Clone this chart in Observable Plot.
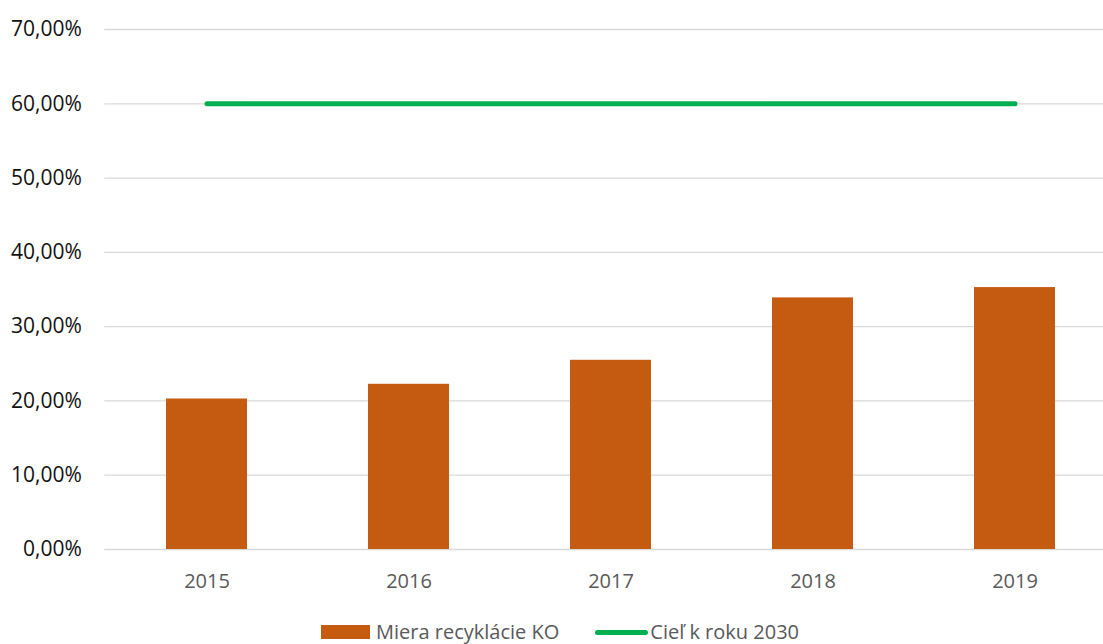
<!DOCTYPE html>
<html>
<head>
<meta charset="utf-8">
<script src="https://cdn.jsdelivr.net/npm/d3@7"></script>
<script src="https://cdn.jsdelivr.net/npm/@observablehq/plot@0.6"></script>
<style>
  html, body { margin: 0; padding: 0; background: #fff; overflow: hidden; width: 1103px; height: 644px; }
  #wrap { position: relative; width: 1103px; height: 644px; overflow: hidden; }
  #chart svg { max-width: none !important; display: block; }
  #legend { position: absolute; top: 622px; left: 321px; display: flex; align-items: center; line-height: 20px; height: 20px;
    font-family: "Open Sans", sans-serif; font-size: 20px; color: #595959; white-space: nowrap; }
  .sw-bar { width: 49px; height: 14px; background: #C55A11; margin-right: 6px; }
  .sw-line { width: 53px; height: 5px; border-radius: 3px; background: #00B050; margin-left: 36px; margin-right: 2px; }
</style>
</head>
<body>
<div id="wrap">
  <div id="chart"></div>
  <div id="legend"></div>
</div>
<script>
const years = ["2015", "2016", "2017", "2018", "2019"];
const recyclingRate = [0.2026, 0.2224, 0.2547, 0.3387, 0.3526];
const target2030 = [0.60, 0.60, 0.60, 0.60, 0.60];
const yTicks = [0, 0.1, 0.2, 0.3, 0.4, 0.5, 0.6, 0.7];
const seriesNames = ["Miera recyklácie KO", "Cieľ k roku 2030"];

const data = years.map((y, i) => ({year: y, value: recyclingRate[i], target: target2030[i]}));
const fmt = d => d3.format(".2%")(d).replace(".", ",");

const chart = Plot.plot({
  width: 1116,
  height: 605,
  marginLeft: 104.3,
  marginRight: 0,
  marginTop: 29,
  marginBottom: 56,
  style: {fontFamily: "Open Sans, sans-serif", background: "#fff", maxWidth: "none"},
  x: {domain: years, paddingInner: 0.6, paddingOuter: 0.3, label: null},
  y: {domain: [0, 0.7], label: null},
  marks: [
    Plot.ruleY(yTicks, {stroke: "#d9d9d9", strokeWidth: 1.3}),
    Plot.barY(data, {x: "year", y: "value", fill: "#C55A11"}),
    Plot.line(data, {x: "year", y: "target", stroke: "#00B050", strokeWidth: 5, strokeLinecap: "round"}),
    Plot.axisY(yTicks, {tickSize: 0, tickPadding: 23, tickFormat: fmt, fontSize: 21, fill: "#111", label: null}),
    Plot.axisX(years, {tickSize: 0, tickPadding: 24, fontSize: 20, fill: "#595959", label: null})
  ]
});
document.getElementById("chart").appendChild(chart);

const legend = document.getElementById("legend");
legend.innerHTML = `<div class="sw-bar"></div><span>${seriesNames[0]}</span><div class="sw-line"></div><span>${seriesNames[1]}</span>`;
</script>
</body>
</html>
